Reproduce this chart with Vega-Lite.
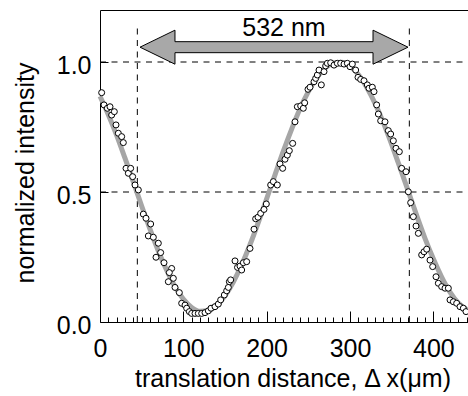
{
  "$schema": "https://vega.github.io/schema/vega-lite/v6.json",
  "width": 369,
  "height": 312,
  "autosize": "none",
  "padding": {"left": 100, "top": 10, "right": 0, "bottom": 74},
  "background": "white",
  "config": {
    "view": {"stroke": null},
    "font": "Liberation Sans",
    "axis": {"labelFont": "Liberation Sans", "titleFont": "Liberation Sans", "labelColor": "black", "titleColor": "black", "domainColor": "black", "tickColor": "black", "grid": false, "titleFontWeight": "normal"}
  },
  "datasets": {
    "pts": [
      {"x": 2, "y": 0.882}, {"x": 4.8, "y": 0.835}, {"x": 8.8, "y": 0.822}, {"x": 12, "y": 0.828}, {"x": 14, "y": 0.796}, {"x": 17.2, "y": 0.809}, {"x": 19.2, "y": 0.758}, {"x": 22, "y": 0.726}, {"x": 26, "y": 0.713}, {"x": 28, "y": 0.69}, {"x": 31.2, "y": 0.591}, {"x": 34, "y": 0.572}, {"x": 36.8, "y": 0.591}, {"x": 39.2, "y": 0.559}, {"x": 42, "y": 0.527}, {"x": 46, "y": 0.508},
      {"x": 52, "y": 0.415}, {"x": 55.2, "y": 0.399}, {"x": 60.8, "y": 0.377}, {"x": 58, "y": 0.331}, {"x": 64, "y": 0.326}, {"x": 70, "y": 0.303}, {"x": 72.8, "y": 0.267}, {"x": 67.2, "y": 0.249}, {"x": 76.8, "y": 0.228}, {"x": 86, "y": 0.206}, {"x": 83.2, "y": 0.19}, {"x": 88, "y": 0.168}, {"x": 82, "y": 0.155}, {"x": 90, "y": 0.133}, {"x": 95.2, "y": 0.113},
      {"x": 98, "y": 0.072}, {"x": 102, "y": 0.065}, {"x": 104, "y": 0.053}, {"x": 107.2, "y": 0.04}, {"x": 110, "y": 0.033}, {"x": 114, "y": 0.033}, {"x": 118, "y": 0.033}, {"x": 122, "y": 0.033}, {"x": 126, "y": 0.036}, {"x": 130, "y": 0.043}, {"x": 133.2, "y": 0.053}, {"x": 138, "y": 0.059}, {"x": 142, "y": 0.069}, {"x": 144.8, "y": 0.085}, {"x": 149.2, "y": 0.104},
      {"x": 152, "y": 0.12}, {"x": 154, "y": 0.133}, {"x": 155.2, "y": 0.155}, {"x": 156.8, "y": 0.162}, {"x": 162, "y": 0.235}, {"x": 165, "y": 0.21}, {"x": 168, "y": 0.215}, {"x": 170, "y": 0.2}, {"x": 172, "y": 0.228}, {"x": 176, "y": 0.232}, {"x": 180, "y": 0.283}, {"x": 184.8, "y": 0.357}, {"x": 186.8, "y": 0.397}, {"x": 189.6, "y": 0.403}, {"x": 192.8, "y": 0.418}, {"x": 196.8, "y": 0.433}, {"x": 199.6, "y": 0.454}, {"x": 204.8, "y": 0.527}, {"x": 208, "y": 0.54}, {"x": 212.8, "y": 0.527}, {"x": 216, "y": 0.608}, {"x": 219.2, "y": 0.591}, {"x": 222, "y": 0.626}, {"x": 224.8, "y": 0.642}, {"x": 227.2, "y": 0.659}, {"x": 231.2, "y": 0.687}, {"x": 234, "y": 0.77},
      {"x": 236.8, "y": 0.828}, {"x": 240.8, "y": 0.831}, {"x": 244, "y": 0.822}, {"x": 245.6, "y": 0.843}, {"x": 249.6, "y": 0.895}, {"x": 252, "y": 0.903}, {"x": 256.8, "y": 0.924}, {"x": 258.8, "y": 0.937}, {"x": 260.8, "y": 0.95}, {"x": 262.8, "y": 0.969}, {"x": 265.6, "y": 0.912}, {"x": 268.8, "y": 0.963}, {"x": 270.8, "y": 0.985}, {"x": 272.8, "y": 0.995}, {"x": 276.8, "y": 0.997}, {"x": 280.8, "y": 0.988}, {"x": 284.8, "y": 0.995}, {"x": 288.8, "y": 0.995}, {"x": 292.8, "y": 0.992}, {"x": 296.8, "y": 0.995}, {"x": 300, "y": 0.982}, {"x": 302.8, "y": 0.992}, {"x": 306.8, "y": 0.969}, {"x": 309.6, "y": 0.941}, {"x": 312.8, "y": 0.933}, {"x": 316.8, "y": 0.928}, {"x": 320.8, "y": 0.912}, {"x": 322.8, "y": 0.899}, {"x": 326.8, "y": 0.903}, {"x": 328.8, "y": 0.886}, {"x": 332, "y": 0.835},
      {"x": 334, "y": 0.8}, {"x": 336.8, "y": 0.774}, {"x": 342, "y": 0.77}, {"x": 346, "y": 0.736}, {"x": 348.8, "y": 0.723}, {"x": 352, "y": 0.697}, {"x": 355.2, "y": 0.668}, {"x": 359.2, "y": 0.655}, {"x": 362, "y": 0.591}, {"x": 367.2, "y": 0.578}, {"x": 370, "y": 0.501}, {"x": 372.8, "y": 0.459}, {"x": 376, "y": 0.405}, {"x": 379.2, "y": 0.369}, {"x": 382, "y": 0.341}, {"x": 386, "y": 0.258}, {"x": 388.8, "y": 0.27}, {"x": 392, "y": 0.28}, {"x": 396, "y": 0.238}, {"x": 399.2, "y": 0.213}, {"x": 403.2, "y": 0.174}, {"x": 406, "y": 0.149}, {"x": 410, "y": 0.136}, {"x": 414, "y": 0.13}, {"x": 418, "y": 0.13}, {"x": 420, "y": 0.085}, {"x": 424, "y": 0.078}, {"x": 428, "y": 0.072}, {"x": 432, "y": 0.059}, {"x": 436, "y": 0.053}, {"x": 439.2, "y": 0.04}
    ],
    "fit": [
      {"x": 0, "y": 0.868}, {"x": 10, "y": 0.797}, {"x": 20, "y": 0.718}, {"x": 30, "y": 0.63}, {"x": 40, "y": 0.539}, {"x": 50, "y": 0.446}, {"x": 60, "y": 0.357}, {"x": 70, "y": 0.273}, {"x": 80, "y": 0.199}, {"x": 90, "y": 0.136}, {"x": 100, "y": 0.088}, {"x": 110, "y": 0.056}, {"x": 120, "y": 0.041}, {"x": 130, "y": 0.044}, {"x": 140, "y": 0.064}, {"x": 150, "y": 0.101}, {"x": 160, "y": 0.154}, {"x": 170, "y": 0.22}, {"x": 180, "y": 0.297}, {"x": 190, "y": 0.383}, {"x": 200, "y": 0.474}, {"x": 210, "y": 0.566}, {"x": 220, "y": 0.657}, {"x": 230, "y": 0.742}, {"x": 240, "y": 0.82}, {"x": 250, "y": 0.886}, {"x": 260, "y": 0.939}, {"x": 270, "y": 0.976}, {"x": 280, "y": 0.996}, {"x": 290, "y": 0.999}, {"x": 300, "y": 0.984}, {"x": 310, "y": 0.952}, {"x": 320, "y": 0.903}, {"x": 330, "y": 0.841}, {"x": 340, "y": 0.767}, {"x": 350, "y": 0.683}, {"x": 360, "y": 0.594}, {"x": 370, "y": 0.502}, {"x": 380, "y": 0.41}, {"x": 390, "y": 0.322}, {"x": 400, "y": 0.243}, {"x": 410, "y": 0.173}, {"x": 420, "y": 0.115}, {"x": 430, "y": 0.073}, {"x": 440, "y": 0.048}
    ],
    "hlines": [{"y": 0.5, "x0": 0, "x1": 442.8}, {"y": 1.0, "x0": 0, "x1": 442.8}],
    "vlines": [{"x": 44.8, "y0": 0, "y1": 1.135}, {"x": 371.2, "y0": 0, "y1": 1.135}],
    "arrow": [{"x": 208.8, "y": 1.057}],
    "label": [{"x": 220.8, "y": 1.1, "text": "532 nm"}]
  },
  "layer": [
    {
      "data": {"name": "hlines"},
      "mark": {"type": "rule", "color": "black", "strokeWidth": 1, "strokeDash": [6, 5.5]},
      "encoding": {
        "x": {"field": "x0", "type": "quantitative", "scale": {"domain": [0, 442.8], "nice": false}, "axis": null},
        "x2": {"field": "x1"},
        "y": {"field": "y", "type": "quantitative", "scale": {"domain": [0, 1.2], "nice": false}, "axis": null}
      }
    },
    {
      "data": {"name": "vlines"},
      "mark": {"type": "rule", "color": "black", "strokeWidth": 1, "strokeDash": [6, 5.5]},
      "encoding": {
        "x": {"field": "x", "type": "quantitative", "axis": null},
        "y": {"field": "y0", "type": "quantitative", "axis": null},
        "y2": {"field": "y1"}
      }
    },
    {
      "data": {"name": "fit"},
      "mark": {"type": "line", "color": "#a6a6a6", "strokeWidth": 5, "interpolate": "monotone"},
      "encoding": {
        "x": {"field": "x", "type": "quantitative", "axis": {"orient": "bottom", "values": [0, 10, 20, 30, 40, 50, 60, 70, 80, 90, 100, 110, 120, 130, 140, 150, 160, 170, 180, 190, 200, 210, 220, 230, 240, 250, 260, 270, 280, 290, 300, 310, 320, 330, 340, 350, 360, 370, 380, 390, 400, 410, 420, 430, 440], "offset": -5, "tickSize": 5, "tickWidth": 1, "labels": false, "domain": false, "title": null}},
        "y": {"field": "y", "type": "quantitative", "axis": {"orient": "left", "values": [0.5, 1], "offset": -8, "tickSize": 8, "tickWidth": 1, "labels": false, "domain": false, "title": null}}
      }
    },
    {
      "data": {"name": "pts"},
      "mark": {"type": "point", "shape": "circle", "size": 36, "filled": false, "fill": "white", "fillOpacity": 1, "stroke": "black", "strokeWidth": 1, "opacity": 1},
      "encoding": {
        "x": {"field": "x", "type": "quantitative", "axis": {"orient": "bottom", "values": [0, 100, 200, 300, 400], "ticks": false, "domain": true, "domainWidth": 1, "labelFontSize": 25, "labelBaseline": "alphabetic", "labelAlign": "center", "labelPadding": 34.5, "labelFlush": false, "labelOverlap": false, "title": "translation distance, Δ x(μm)", "titleFontSize": 25, "titleX": 192.5, "titleY": 64, "titleAlign": "center", "titleBaseline": "alphabetic"}},
        "y": {"field": "y", "type": "quantitative", "axis": {"orient": "left", "values": [0, 0.5, 1], "format": ".1f", "ticks": false, "domain": true, "domainWidth": 1, "labelFontSize": 25, "labelBaseline": "alphabetic", "labelOffset": 11.5, "labelPadding": 9, "labelFlush": false, "labelOverlap": false, "title": "normalized intensity", "titleFontSize": 25, "titleX": -67, "titleY": 162.5, "titleAngle": -90, "titleAlign": "center", "titleBaseline": "alphabetic"}}
      }
    },
    {
      "data": {"name": "arrow"},
      "mark": {"type": "point", "shape": "M-1,0L-0.739,-0.127L-0.739,-0.041L0.739,-0.041L0.739,-0.127L1,0L0.739,0.127L0.739,0.041L-0.739,0.041L-0.739,0.127Z", "size": 71824, "filled": true, "fill": "#a8a8a8", "fillOpacity": 1, "stroke": "black", "strokeWidth": 1, "opacity": 1},
      "encoding": {
        "x": {"field": "x", "type": "quantitative", "axis": {"orient": "bottom", "values": [100, 200, 300, 400], "offset": -11, "tickSize": 11, "tickWidth": 1, "labels": false, "domain": false, "title": null}},
        "y": {"field": "y", "type": "quantitative", "axis": null}
      }
    },
    {
      "data": {"name": "label"},
      "mark": {"type": "text", "font": "Liberation Sans", "fontSize": 25, "color": "black", "align": "center", "baseline": "alphabetic"},
      "encoding": {
        "x": {"field": "x", "type": "quantitative", "axis": {"orient": "top", "labels": false, "ticks": false, "domain": true, "domainWidth": 1, "title": null}},
        "y": {"field": "y", "type": "quantitative", "axis": null},
        "text": {"field": "text"}
      }
    }
  ],
  "resolve": {"axis": {"x": "independent", "y": "independent"}}
}
